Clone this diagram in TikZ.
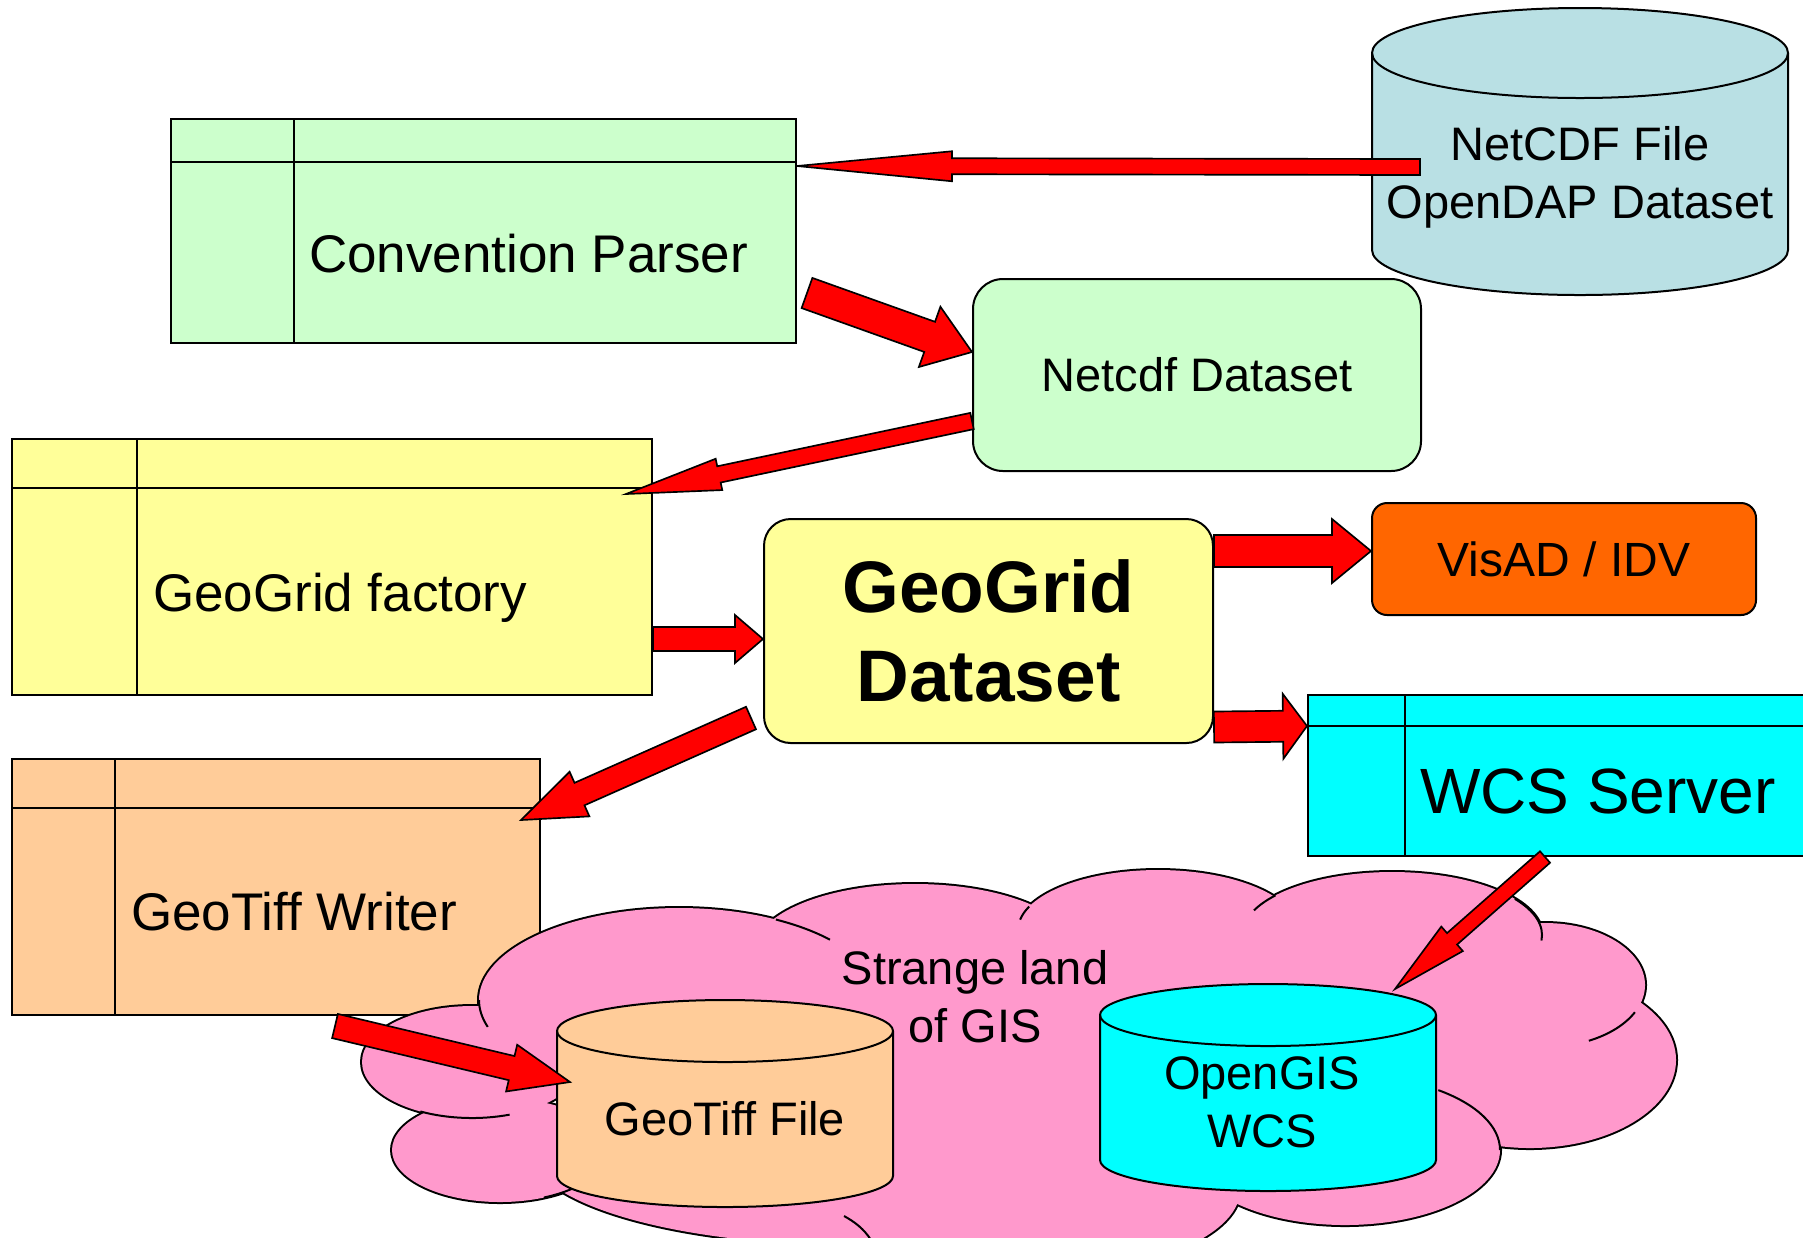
\documentclass[tikz,border=0pt]{standalone}
\usepackage{fontspec}
\setmainfont{Liberation Sans}
\usetikzlibrary{calc}

\definecolor{parsergreen}{HTML}{CCFFCC}
\definecolor{gridyellow}{HTML}{FFFF99}
\definecolor{tiffpeach}{HTML}{FFCC99}
\definecolor{filecyan}{RGB}{185,224,228}
\definecolor{visorange}{HTML}{FF6600}
\definecolor{wcscyan}{HTML}{00FFFF}
\definecolor{gispink}{HTML}{FF99CC}

\tikzset{
  classbox/.style={draw, rectangle, inner sep=0pt},
  roundbox/.style={draw, rounded corners=9pt, inner sep=0pt, align=center},
  fatarr/.style={fill=red, draw=black, line width=0.5pt},
  lbl/.style={inner sep=0pt, align=center, font=\fontsize{14.1}{17.4}\selectfont},
  clslbl/.style={inner sep=0pt, anchor=base west, font=\fontsize{15.9}{19}\selectfont},
}

% block arrow: from, to, half shaft, half head, head length
\newcommand\fatarrow[5]{%
  \path ($(#2)!#5*0.3pt!(#1)$) coordinate (fah);
  \filldraw[fatarr] ($(#1)!#3*0.3pt!90:(#2)$) -- ($(fah)!#3*0.3pt!-90:(#1)$)
    -- ($(fah)!#4*0.3pt!-90:(#1)$) -- (#2) -- ($(fah)!#4*0.3pt!90:(#1)$)
    -- ($(fah)!#3*0.3pt!90:(#1)$) -- ($(#1)!#3*0.3pt!-90:(#2)$) -- cycle;}

% data store: cx, top, bottom, rx, ry, fill
\newcommand\dbcyl[6]{%
  \filldraw[fill=#6] (#1-#4,#2+#5) -- (#1-#4,#3-#5)
    arc[start angle=180, end angle=0, x radius=#4, y radius=#5]
    -- (#1+#4,#2+#5)
    arc[start angle=0, end angle=-180, x radius=#4, y radius=#5] -- cycle;
  \draw (#1-#4,#2+#5) arc[start angle=180, end angle=0, x radius=#4, y radius=#5];}

\begin{document}
\begin{tikzpicture}[x=0.3pt, y=-0.3pt, line width=0.6pt]
  \useasboundingbox (0,0) rectangle (1803,1237);
  \clip (0,0) rectangle (1803,1237);

  %% class boxes
  \node[classbox, fill=parsergreen, minimum width=187.5pt, minimum height=67.2pt] (cp) at (483.5,231) {};
  \draw ($(cp.north west)+(0,44)$) -- ($(cp.north east)+(0,44)$);
  \draw ($(cp.north west)+(124,0)$) -- ($(cp.south west)+(124,0)$);
  \node[clslbl] (cpl) at (308,272) {Convention Parser};

  \node[classbox, fill=gridyellow, minimum width=192pt, minimum height=76.8pt] (gf) at (332,567) {};
  \draw ($(gf.north west)+(0,50)$) -- ($(gf.north east)+(0,50)$);
  \draw ($(gf.north west)+(126,0)$) -- ($(gf.south west)+(126,0)$);
  \node[clslbl] (gfl) at (152,611) {GeoGrid factory};

  \node[classbox, fill=tiffpeach, minimum width=158.4pt, minimum height=76.8pt] (gw) at (276,887) {};
  \draw ($(gw.north west)+(0,50)$) -- ($(gw.north east)+(0,50)$);
  \draw ($(gw.north west)+(104,0)$) -- ($(gw.south west)+(104,0)$);
  \node[clslbl] (gwl) at (130,930) {GeoTiff Writer};

  \node[classbox, fill=wcscyan, minimum width=162.6pt, minimum height=48.3pt] (ws) at (1579,775.5) {};
  \draw ($(ws.north west)+(0,32)$) -- ($(ws.north east)+(0,32)$);
  \draw ($(ws.north west)+(98,0)$) -- ($(ws.south west)+(98,0)$);
  \node[clslbl, font=\fontsize{19.2}{23}\selectfont] (wsl) at (1419,813) {WCS Server};

  %% rounded boxes
  \node[roundbox, fill=parsergreen, minimum width=134.4pt, minimum height=57.6pt, font=\fontsize{14.1}{17.4}\selectfont] (nd) at (1197,375) {Netcdf Dataset};
  \node[roundbox, fill=gridyellow, rounded corners=8pt, minimum width=134.7pt, minimum height=67.2pt, font=\bfseries\fontsize{21.9}{26.7}\selectfont] (gd) at (988.5,631) {GeoGrid\\Dataset};
  \node[roundbox, fill=visorange, rounded corners=4.5pt, minimum width=115.2pt, minimum height=33.6pt, font=\fontsize{14.4}{17.4}\selectfont] (vi) at (1564,559) {VisAD / IDV};

  %% netcdf source
  \dbcyl{1580}{8}{295}{208}{45}{filecyan}
  \node[lbl] (ncf) at (1580,177) {NetCDF File\\OpenDAP Dataset};

  \coordinate (ncfout) at ($(ncf)+(-160,-10)$);
  \coordinate (cpin) at ($(cp.north east)+(0,48)$);
  \fatarrow{ncfout}{cpin}{8}{15}{155}
  \coordinate (cpout) at ($(cp.south east)+(10,-51)$);
  \coordinate (ndin) at ($(nd.west)+(0,-23)$);
  \fatarrow{cpout}{ndin}{16}{32}{45}
  \coordinate (ndout) at ($(nd.west)+(0,46)$);
  \coordinate (gfin) at ($(gf.north east)+(-27,56)$);
  \fatarrow{ndout}{gfin}{8.3}{16}{95}
  \coordinate (gfout) at ($(gf.east)+(0,72)$);
  \coordinate (gdin) at ($(gd.west)+(0,8)$);
  \fatarrow{gfout}{gdin}{12}{24}{28}
  \coordinate (gdvi) at ($(gd.east)+(0,-80)$);
  \coordinate (viin) at ($(vi.west)+(0,-8)$);
  \fatarrow{gdvi}{viin}{16}{32}{39}
  \coordinate (gdws) at ($(gd.east)+(0,96)$);
  \coordinate (wsin) at ($(ws.north west)+(0,32)$);
  \fatarrow{gdws}{wsin}{15.5}{32.5}{24}
  \coordinate (gdgw) at ($(gd.south west)+(-12,-26)$);
  \coordinate (gwin) at ($(gw.north east)+(-20,62)$);
  \fatarrow{gdgw}{gwin}{12.3}{24.4}{64}

  %% strange land of GIS
  \def\gisbumps{679/1000/200/92, 472/1062/110/56, 500/1150/108/52, 850/1150/320/95,
    1000/1190/240/90, 915/950/160/66, 1158/930/140/60, 1392/935/150/63,
    1545/985/100/62, 1530/1060/146/88, 1345/1150/155/75}
  \foreach \cx/\cy/\rx/\ry in \gisbumps
    \draw[line width=1.2pt] (\cx,\cy) ellipse [x radius=\rx, y radius=\ry];
  \foreach \cx/\cy/\rx/\ry in \gisbumps
    \fill[gispink] (\cx,\cy) ellipse [x radius=\rx, y radius=\ry];
  \fill[gispink] (1000,1040) ellipse [x radius=400, y radius=130];
  \fill[gispink] (1300,1050) ellipse [x radius=250, y radius=120];
  \foreach \cx/\cy/\rx/\ry/\a/\b in {679/1000/200/92/180/163, 472/1062/110/56/118/70,
      500/1150/108/52/66/45, 679/1000/200/92/-61/-41, 1158/930/140/60/-157/-170,
      1392/935/150/63/-141/-157, 1392/935/150/63/-35/5, 1545/985/100/62/26/64,
      1345/1150/155/75/-53/0}
    \draw ([shift={(\cx,\cy)}]{\a}:{\rx} and {\ry}) arc[start angle=\a, end angle=\b, x radius=\rx, y radius=\ry];
  \draw (844,1216) .. controls (855,1222) and (864,1229) .. (871,1240);
  \node[lbl] (gis) at (975,997) {Strange land\\of GIS};

  \dbcyl{725}{1000}{1207}{168}{31}{tiffpeach}
  \node[lbl, anchor=base] (gtf) at (725,1135) {GeoTiff File};
  \dbcyl{1268}{984}{1191}{168}{31}{wcscyan}
  \node[lbl] (ogw) at (1262,1102) {OpenGIS\\WCS};

  \coordinate (gwout) at ($(gw.south west)+(324,10)$);
  \coordinate (gtfin) at ($(gtf.base)+(-155,-53)$);
  \fatarrow{gwout}{gtfin}{12.4}{24}{60}
  \coordinate (wsout) at ($(ws.south west)+(238,0)$);
  \coordinate (ogwin) at ($(ogw)+(133,-113)$);
  \fatarrow{wsout}{ogwin}{7.6}{16.3}{76}
\end{tikzpicture}
\end{document}
